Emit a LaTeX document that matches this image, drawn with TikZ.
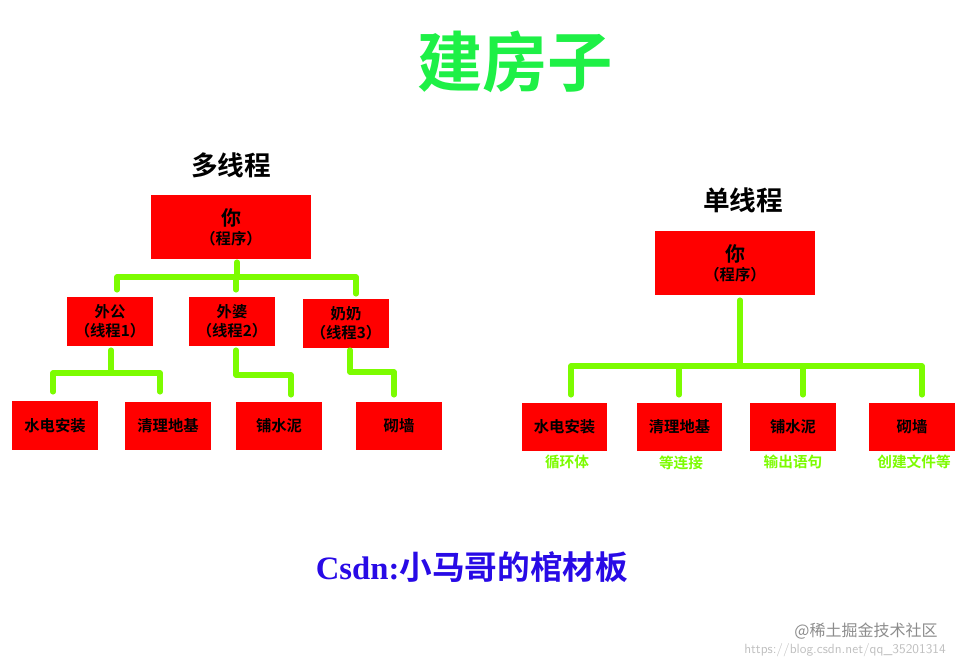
\documentclass[tikz,border=0pt]{standalone}
\usepackage{fontspec}
\setmainfont{Liberation Serif}
\newfontfamily\cjk{Noto Sans CJK SC}[BoldFont={Noto Sans CJK SC Bold}]
\definecolor{boxred}{RGB}{255,0,0}
\definecolor{lgreen}{RGB}{124,252,0}
\definecolor{tgreen}{RGB}{30,240,70}
\definecolor{tblue}{RGB}{40,10,230}
\begin{document}
\begin{tikzpicture}[x=0.75pt,y=-0.75pt,
  box/.style={fill=boxred,inner sep=0pt,align=center,font=\cjk\bfseries\fontsize{11.5}{14}\selectfont},
  link/.style={draw=lgreen,line width=3.8pt,line cap=round,line join=round},
  sub/.style={text=lgreen,font=\cjk\bfseries\fontsize{11}{12}\selectfont}]
\useasboundingbox (0,0) rectangle (964,664);
\node[font=\cjk\bfseries\fontsize{49}{52}\selectfont,text=tgreen] (title) at (515,62) {建房子};
% left
\node[font=\cjk\bfseries\fontsize{20}{24}\selectfont] (lt) at (231,165) {多线程};
\node[box,minimum width=120pt,minimum height=48pt] (lr) at (231,227) {{\fontsize{15}{17}\selectfont 你}\\（程序）};
\node[box,minimum width=64.5pt,minimum height=37pt] (m1) at (110,321.5) {外公\\（线程1）};
\node[box,minimum width=64.5pt,minimum height=37pt] (m2) at (232,321.5) {外婆\\（线程2）};
\node[box,minimum width=64.5pt,minimum height=37pt] (m3) at (346,323.5) {奶奶\\（线程3）};
\node[box,minimum width=64.5pt,minimum height=37pt] (a1) at (55,425.5) {水电安装};
\node[box,minimum width=64.5pt,minimum height=36pt] (a2) at (168,426) {清理地基};
\node[box,minimum width=64.5pt,minimum height=36pt] (a3) at (279,426) {铺水泥};
\node[box,minimum width=64.5pt,minimum height=36pt] (a4) at (399,426) {砌墙};
\coordinate (lb) at (237,277);
\draw[link] (237,262) -- (lb);
\draw[link] (117,290) -- (117,277) -- (356,277) -- (356,294);
\draw[link] (236,277) -- (236,290);
\draw[link] (111,350) -- (111,373);
\draw[link] (53,392) -- (53,373) -- (160,373) -- (160,392);
\draw[link] (236,350) -- (236,375) -- (291,375) -- (291,395);
\draw[link] (350,350) -- (350,372) -- (394,372) -- (394,395);
% right
\node[font=\cjk\bfseries\fontsize{20}{24}\selectfont] (rt) at (743,200) {单线程};
\node[box,minimum width=120pt,minimum height=48pt] (rr) at (735,263) {{\fontsize{15}{17}\selectfont 你}\\（程序）};
\node[box,minimum width=64pt,minimum height=36pt] (b1) at (564.5,427) {水电安装};
\node[box,minimum width=64pt,minimum height=36pt] (b2) at (679.5,427) {清理地基};
\node[box,minimum width=64pt,minimum height=36pt] (b3) at (793,427) {铺水泥};
\node[box,minimum width=64pt,minimum height=36pt] (b4) at (912,427) {砌墙};
\draw[link] (740,300) -- (740,366);
\draw[link] (571,395) -- (571,366) -- (922,366) -- (922,395);
\draw[link] (679,366) -- (679,395);
\draw[link] (803,366) -- (803,395);
\node[sub] (c1) at (567,462) {循环体};
\node[sub] (c2) at (681,463) {等连接};
\node[sub] (c3) at (793,462) {输出语句};
\node[sub] (c4) at (914,462) {创建文件等};
% footer
\node[text=tblue,font=\fontsize{24.5}{28}\selectfont\bfseries] (csdn) at (472,567) {Csdn:{\cjk 小马哥的棺材板}};
\node[text=black!25,font=\fontsize{10}{12}\selectfont\sffamily] (url) at (845,650) {https://blog.csdn.net/qq\_35201314};
\node[text=black!45,font=\cjk\fontsize{12}{14}\selectfont] (wm) at (866,631) {@稀土掘金技术社区};
\end{tikzpicture}
\end{document}
